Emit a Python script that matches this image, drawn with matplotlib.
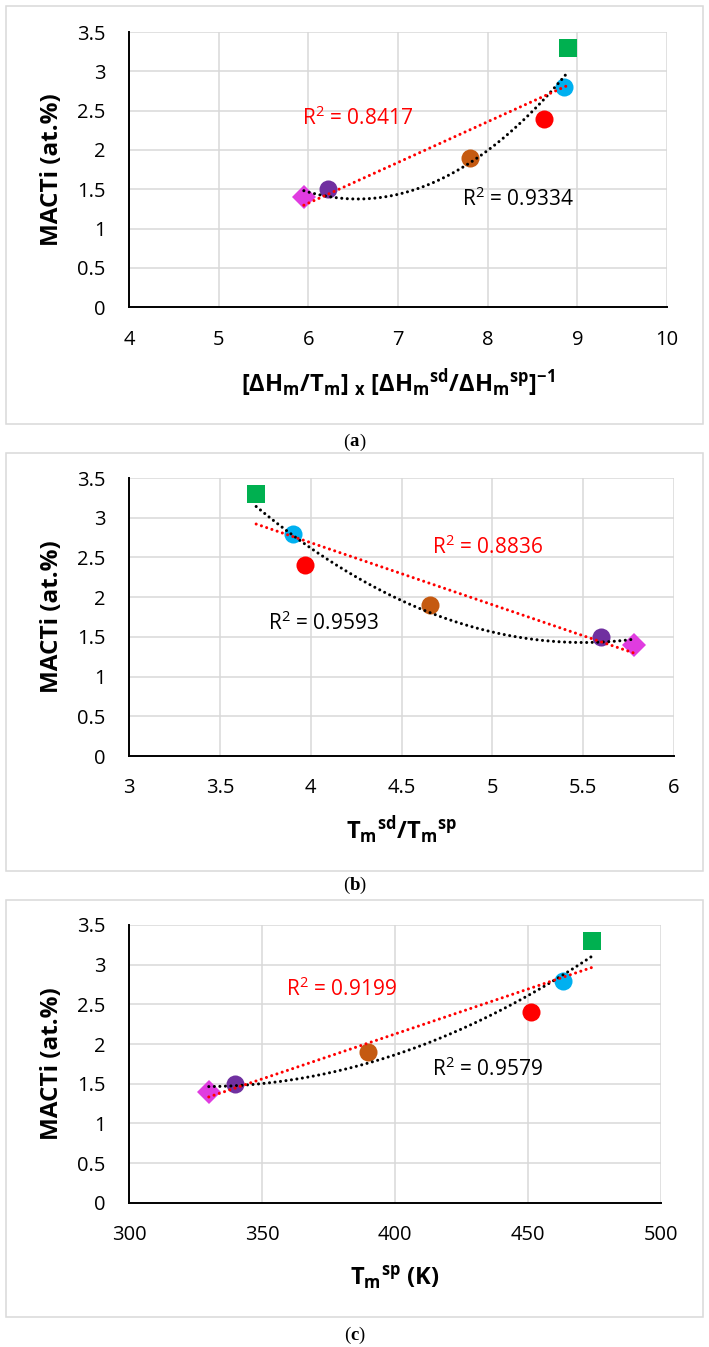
import numpy as np
import matplotlib
matplotlib.use("Agg")
import matplotlib.pyplot as plt
from matplotlib.patches import Rectangle

plt.rcParams['font.family'] = ['Open Sans', 'DejaVu Sans']
plt.rcParams['mathtext.fontset'] = 'custom'
plt.rcParams['mathtext.rm'] = 'Open Sans'
plt.rcParams['mathtext.bf'] = 'Open Sans:bold'
plt.rcParams['mathtext.it'] = 'Open Sans:italic'

# ---- data ----
macti = [1.4, 1.5, 1.9, 2.4, 2.8, 3.3]          # diamond, purple, brown, red, blue, green
marker_styles = ['D', 'o', 'o', 'o', 'o', 's']
marker_colors = ['#E03CE0', '#7030A0', '#C55A11', '#FF0000', '#00B0F0', '#00B050']

x_a = [5.95, 6.22, 7.80, 8.63, 8.85, 8.90]
x_b = [5.78, 5.60, 4.655, 3.97, 3.90, 3.70]
x_c = [330, 340, 390, 451, 463, 474]

r2_lin = ['R$^2$ = 0.8417', 'R$^2$ = 0.8836', 'R$^2$ = 0.9199']
r2_quad = ['R$^2$ = 0.9334', 'R$^2$ = 0.9593', 'R$^2$ = 0.9579']
r2_lin_pos = [(5.93, 2.41), (4.668, 2.63), (359.1, 2.69)]
r2_quad_pos = [(7.71, 1.375), (3.764, 1.67), (413.9, 1.685)]

xlims = [(4, 10), (3, 6), (300, 500)]
xticks = [np.arange(4, 10.01, 1), np.arange(3, 6.01, 0.5), np.arange(300, 500.1, 50)]
xticklabels = [['4', '5', '6', '7', '8', '9', '10'],
               ['3', '3.5', '4', '4.5', '5', '5.5', '6'],
               ['300', '350', '400', '450', '500']]
yticks = np.arange(0, 3.51, 0.5)
yticklabels = ['0', '0.5', '1', '1.5', '2', '2.5', '3', '3.5']

xlabels = [r'$\mathbf{[\Delta H_m/T_m]}$ $_\mathbf{x}$ $\mathbf{[\Delta H_m{}^{sd}/\Delta H_m{}^{sp}]^{-1}}$',
           r'$\mathbf{T_m{}^{sd}/T_m{}^{sp}}$',
           r'$\mathbf{T_m{}^{sp}}$ (K)']
ylabel = 'MACTi (at.%)'
captions = ['a', 'b', 'c']

# ---- layout (pixels) ----
W, H = 709, 1347
fig = plt.figure(figsize=(W / 100, H / 100), dpi=100)

ax_px = [(129, 667, 32, 307.3), (129, 674, 478, 756), (129, 661, 925, 1202.7)]
border_px = [(6, 703, 6, 424), (6, 703, 453, 871), (6, 703, 900, 1317)]
caption_y = [442, 885, 1335]
xlabel_y = [383, 830, 1277]

for i in range(3):
    l, r, t, b = border_px[i]
    fig.patches.append(Rectangle((l / W, 1 - b / H), (r - l) / W, (b - t) / H,
                                 transform=fig.transFigure, fill=False,
                                 edgecolor='#D9D9D9', linewidth=1.1, zorder=0))
    l, r, t, b = ax_px[i]
    ax = fig.add_axes([l / W, 1 - b / H, (r - l) / W, (b - t) / H])
    xs = [x_a, x_b, x_c][i]
    for xv, yv, m, c in zip(xs, macti, marker_styles, marker_colors):
        ms = 12 if m == 'D' else (12.5 if m == 's' else 13)
        ax.plot([xv], [yv], marker=m, color=c, markersize=ms, markeredgewidth=0,
                linestyle='none', zorder=3, clip_on=False)
    xarr = np.array(xs, dtype=float)
    yarr = np.array(macti, dtype=float)
    xx = np.linspace(xarr.min(), xarr.max(), 300)
    pq = np.polyfit(xarr, yarr, 2)
    pl = np.polyfit(xarr, yarr, 1)
    ax.plot(xx, np.polyval(pq, xx), color='black', linewidth=2.2,
            linestyle=(0, (0.01, 1.8)), dash_capstyle='round', zorder=4)
    ax.plot(xx, np.polyval(pl, xx), color='#FF0000', linewidth=2.2,
            linestyle=(0, (0.01, 1.8)), dash_capstyle='round', zorder=5)

    ax.text(*r2_lin_pos[i], r2_lin[i], color='#FF0000', fontsize=15, ha='left', va='center')
    ax.text(*r2_quad_pos[i], r2_quad[i], color='black', fontsize=15, ha='left', va='center')

    ax.set_xlim(*xlims[i])
    ax.set_ylim(0, 3.5)
    ax.set_xticks(xticks[i])
    ax.set_xticklabels(xticklabels[i])
    ax.set_yticks(yticks)
    ax.set_yticklabels(yticklabels)
    ax.tick_params(axis='both', length=0, labelsize=14.5, colors='black')
    ax.tick_params(axis='y', pad=17)
    ax.tick_params(axis='x', pad=16)
    ax.grid(True, color='#D9D9D9', linewidth=1.1, zorder=0)
    ax.set_axisbelow(True)
    for s in ['top', 'right']:
        ax.spines[s].set_visible(False)
    for s in ['left', 'bottom']:
        ax.spines[s].set_linewidth(1.4)
        ax.spines[s].set_zorder(2)

    ax.set_ylabel(ylabel, fontsize=17.5, fontweight='bold')
    ax.yaxis.set_label_coords((52 - l) / (r - l), 0.5)
    ax.yaxis.label.set_va('center')
    ax.set_xlabel(xlabels[i], fontsize=17, fontweight='bold')
    ax.xaxis.set_label_coords(0.5, -(xlabel_y[i] - b) / (b - t))
    ax.xaxis.label.set_va('center')

    # caption "(x)" with bold letter
    cy = 1 - caption_y[i] / H
    ta = fig.text(354.5 / W, cy, captions[i], fontsize=13.5, fontweight='bold',
                  family='Liberation Serif', ha='center', va='center')
    ax.annotate('(', xy=(0, 0.5), xycoords=ta, ha='right', va='center',
                fontsize=13.5, family='Liberation Serif', annotation_clip=False)
    ax.annotate(')', xy=(1, 0.5), xycoords=ta, ha='left', va='center',
                fontsize=13.5, family='Liberation Serif', annotation_clip=False)

fig.savefig('out.png', dpi=100)
